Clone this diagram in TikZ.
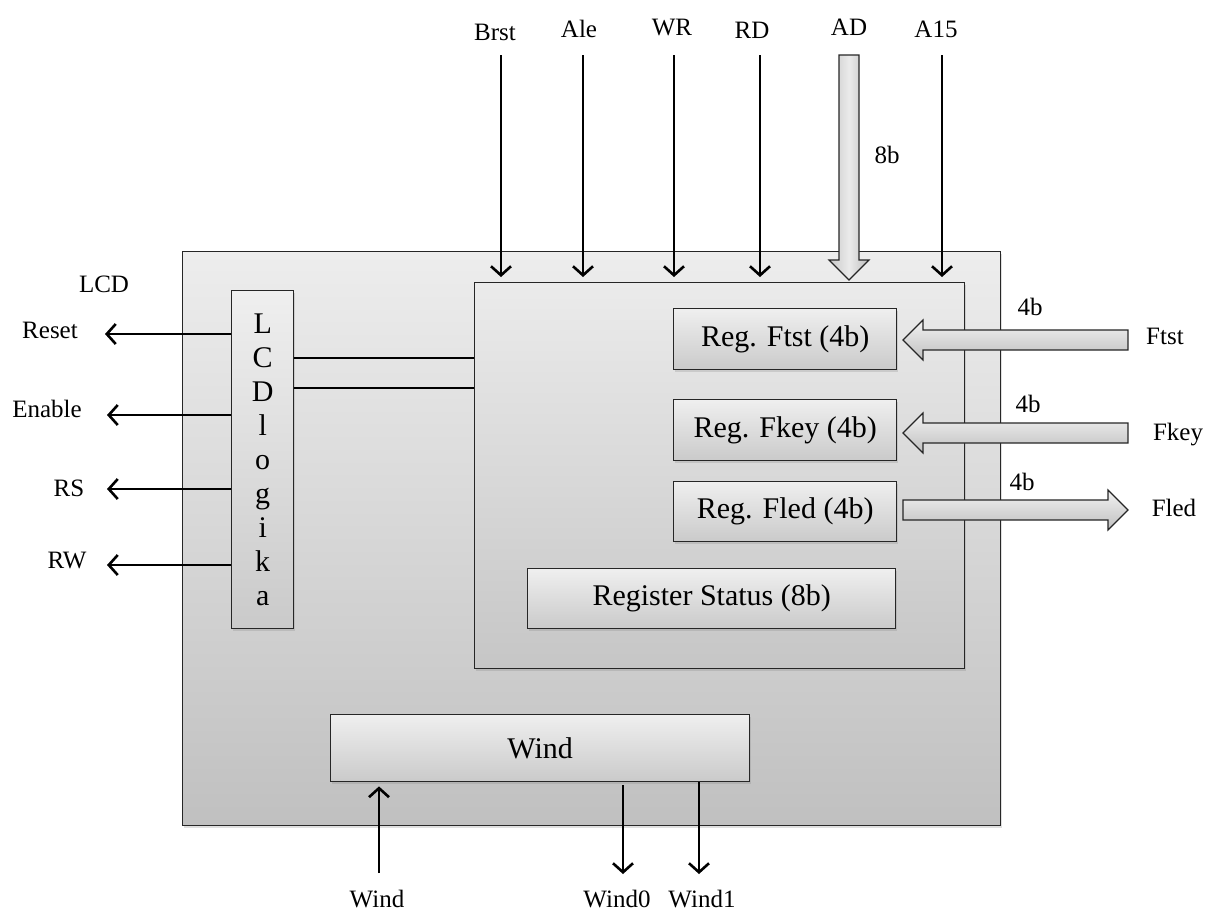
\documentclass[tikz,border=0pt]{standalone}
\usepackage{fontspec}
\setmainfont{Liberation Serif}
\usetikzlibrary{arrows.meta,shadows,calc}

\definecolor{shTop}{HTML}{EDEDED}
\definecolor{shBot}{HTML}{C0C0C0}
\definecolor{coreTop}{HTML}{EBEBEB}
\definecolor{coreBot}{HTML}{C6C6C6}
\definecolor{regTop}{HTML}{EFEFEF}
\definecolor{regBot}{HTML}{CACACA}
\definecolor{edge}{HTML}{262626}

\begin{document}
\begin{tikzpicture}[x=1pt,y=-1pt,
  shade box/.style={draw=edge, line width=1.4pt, inner sep=0pt, anchor=north west,
    drop shadow={shadow xshift=1.5pt, shadow yshift=-2pt, opacity=0.25}},
  outer/.style={shade box, top color=shTop, bottom color=shBot},
  corebox/.style={shade box, top color=coreTop, bottom color=coreBot},
  regbox/.style={shade box, top color=regTop, bottom color=regBot,
    font=\fontsize{30}{34}\selectfont},
  lbl/.style={font=\fontsize{25}{30}\selectfont, inner sep=0pt},
  sig/.style={line width=2.6pt, -{Straight Barb[length=9pt,width=20pt]}},
  wire/.style={line width=2.6pt},
  fatv/.style={draw=edge, line width=1.2pt, left color=black!22, right color=black!26, middle color=black!8},
  fath/.style={draw=edge, line width=1.2pt, top color=black!5, bottom color=black!25},
]
\useasboundingbox (0,0) rectangle (1216,914);

% ---------- blocks ----------
\node[outer, minimum width=818pt, minimum height=574pt] (chip) at (182,251) {};
\node[corebox, minimum width=490pt, minimum height=386pt] (core) at (474,282) {};
\node[regbox, minimum width=62pt, minimum height=338pt, align=center] (lcd) at (231,290)
  {L\\C\\D\\l\\o\\g\\i\\k\\a};
\node[regbox, minimum width=223pt, minimum height=61pt] (ftst) at (673,308) {Reg. Ftst (4b)};
\node[regbox, minimum width=223pt, minimum height=61pt] (fkey) at (673,399) {Reg. Fkey (4b)};
\node[regbox, minimum width=223pt, minimum height=60pt] (fled) at (673,481) {Reg. Fled (4b)};
\node[regbox, minimum width=368pt, minimum height=60pt] (status) at (527,568) {Register Status (8b)};
\node[regbox, minimum width=419pt, minimum height=67pt] (windbox) at (330,714) {Wind};

% ---------- bus inputs on top ----------
\node[lbl, anchor=base] (brst) at (495,40) {Brst};
\node[lbl, anchor=base] (ale)  at (579,37) {Ale};
\node[lbl, anchor=base] (wr)   at (672,35) {WR};
\node[lbl, anchor=base] (rd)   at (752,38) {RD};
\node[lbl, anchor=base] (ad)   at (849,35) {AD};
\node[lbl, anchor=base] (a15)  at (936,37) {A15};
\node[lbl, anchor=base] (adw)  at (887,163) {8b};

\coordinate (brst-s) at (501,55);
\coordinate (ale-s)  at (583,55);
\coordinate (wr-s)   at (674,55);
\coordinate (rd-s)   at (760,55);
\coordinate (a15-s)  at (942,55);
\foreach \s in {brst-s,ale-s,wr-s,rd-s,a15-s}
  \draw[sig, shorten >=5pt] (\s) -- (\s |- core.north);

% AD data bus (8 bit)
\coordinate (ad-s) at (849,55);
\draw[fatv] (ad-s) ++(-10,0) -- ++(0,205) -- ++(-10,0) -- ++(20,20)
  -- ++(20,-20) -- ++(-10,0) -- ++(0,-205) -- cycle;

% ---------- 4 bit ports on the right ----------
\node[lbl, anchor=base] (ftst-w) at (1030,315) {4b};
\node[lbl, anchor=base] (ftst-l) at (1165,344) {Ftst};
\node[lbl, anchor=base] (fkey-w) at (1028,412) {4b};
\node[lbl, anchor=base] (fkey-l) at (1178,440) {Fkey};
\node[lbl, anchor=base] (fled-w) at (1022,490) {4b};
\node[lbl, anchor=base] (fled-l) at (1174,516) {Fled};

\coordinate (ftst-t) at (1128,340);
\draw[fath] (ftst-t) ++(0,-10) -- ++(-205,0) -- ++(0,-10) -- ++(-20,20)
  -- ++(20,20) -- ++(0,-10) -- ++(205,0) -- cycle;
\coordinate (fkey-t) at (1128,433);
\draw[fath] (fkey-t) ++(0,-10) -- ++(-205,0) -- ++(0,-10) -- ++(-20,20)
  -- ++(20,20) -- ++(0,-10) -- ++(205,0) -- cycle;
\coordinate (fled-t) at (903,510);
\draw[fath] (fled-t) ++(0,-10) -- ++(205,0) -- ++(0,-10) -- ++(20,20)
  -- ++(-20,20) -- ++(0,-10) -- ++(-205,0) -- cycle;

% ---------- LCD outputs on the left ----------
\node[lbl, anchor=base] (lcdl)   at (104,292) {LCD};
\node[lbl, anchor=base] (reset)  at (50,338)  {Reset};
\node[lbl, anchor=base] (enable) at (47,417)  {Enable};
\node[lbl, anchor=base] (rs)     at (69,496)  {RS};
\node[lbl, anchor=base] (rw)     at (67,568)  {RW};

\coordinate (reset-e)  at (105,334);
\coordinate (enable-e) at (107,415);
\coordinate (rs-e)     at (107,489);
\coordinate (rw-e)     at (107,565);
\foreach \e in {reset-e,enable-e,rs-e,rw-e}
  \draw[sig] (\e -| lcd.west) -- (\e);

% LCD logic to the register block
\path (lcd.north east) ++(0,68) coordinate (l1) ++(0,30) coordinate (l2);
\draw[wire] (l1) -- (l1 -| core.west);
\draw[wire] (l2) -- (l2 -| core.west);

% ---------- Wind ----------
\node[lbl, anchor=base] (windl)  at (377,907) {Wind};
\node[lbl, anchor=base] (wind0l) at (617,907) {Wind0};
\node[lbl, anchor=base] (wind1l) at (702,907) {Wind1};

\coordinate (wind-s)  at (379,873);
\coordinate (wind0-e) at (623,874);
\coordinate (wind1-e) at (699,874);
\draw[sig, shorten >=4pt] (wind-s) -- (wind-s |- windbox.south);
\draw[sig, shorten <=3pt] (wind0-e |- windbox.south) -- (wind0-e);
\draw[sig] (wind1-e |- windbox.south) -- (wind1-e);
\end{tikzpicture}
\end{document}
